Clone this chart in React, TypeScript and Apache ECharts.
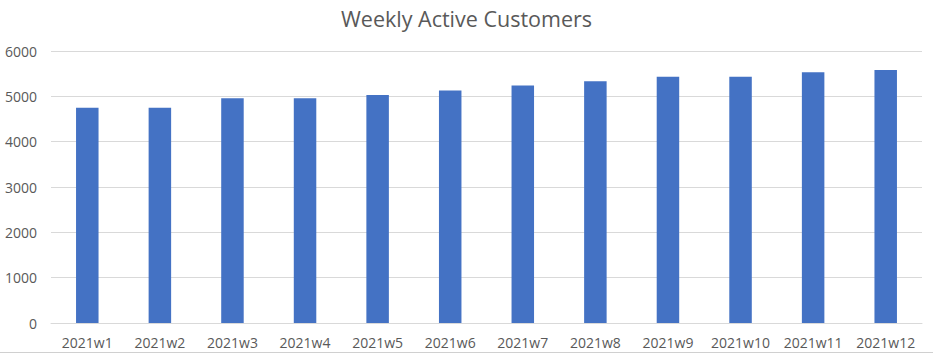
import React, { useEffect, useRef } from "react";
import * as echarts from "echarts";

const categories = [
  "2021w1", "2021w2", "2021w3", "2021w4", "2021w5", "2021w6",
  "2021w7", "2021w8", "2021w9", "2021w10", "2021w11", "2021w12",
];
const customers = [4750, 4750, 4960, 4960, 5030, 5130, 5240, 5330, 5430, 5430, 5530, 5580];
const yTicks = { min: 0, max: 6000, interval: 1000 };
const titleText = "Weekly Active Customers";

export default function App() {
  const ref = useRef<HTMLDivElement>(null);
  useEffect(() => {
    if (!ref.current) return;
    const chart = echarts.init(ref.current, null, { renderer: "svg" });
    const font = "'Open Sans', 'Noto Sans', sans-serif";
    chart.setOption({
      animation: false,
      backgroundColor: "#ffffff",
      title: {
        text: titleText,
        left: "center",
        top: 2,
        textStyle: { fontFamily: font, fontSize: 21.5, fontWeight: "normal", color: "#595959" },
      },
      grid: { left: 51, right: 11, top: 51, bottom: 31, containLabel: false },
      xAxis: {
        type: "category",
        data: categories,
        axisLine: { show: true, lineStyle: { color: "#d9d9d9", width: 1 } },
        axisTick: { show: false },
        axisLabel: { color: "#595959", fontFamily: font, fontSize: 14, margin: 12, interval: 0 },
      },
      yAxis: {
        type: "value",
        min: yTicks.min,
        max: yTicks.max,
        interval: yTicks.interval,
        axisLine: { show: false },
        axisTick: { show: false },
        axisLabel: {
          color: "#595959",
          fontFamily: font,
          fontSize: 14,
          margin: 14,
          formatter: (v: number) => String(v),
        },
        splitLine: { lineStyle: { color: "#d9d9d9", width: 1 } },
      },
      series: [
        {
          type: "bar",
          data: customers,
          barCategoryGap: "69%",
          itemStyle: { color: "#4472c4" },
        },
      ],
      graphic: [
        {
          type: "line",
          shape: { x1: 0, y1: 352.5, x2: 933, y2: 352.5 },
          style: { stroke: "#d0d0d0", lineWidth: 1 },
        },
      ],
    });
    return () => chart.dispose();
  }, []);
  return (
    <div
      ref={ref}
      style={{ position: "absolute", left: 0, top: 0, width: 933, height: 354 }}
    />
  );
}
